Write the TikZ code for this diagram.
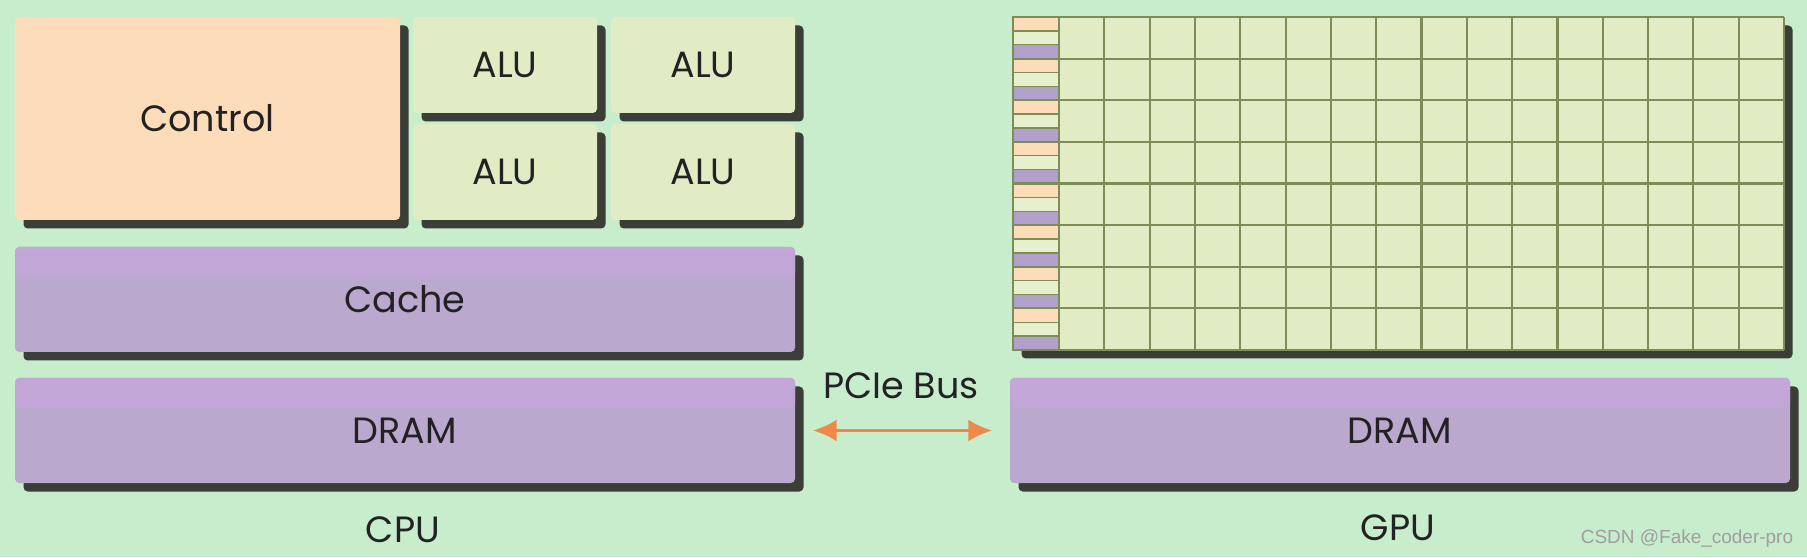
\documentclass[tikz,border=0pt]{standalone}
\usepackage{fontspec}
\setmainfont{Poppins}
\newfontfamily\wzfont{Liberation Sans}
\usetikzlibrary{arrows.meta,shadows,positioning}
\definecolor{minz}{HTML}{C8EDCC}
\definecolor{pfir}{HTML}{FDDCBA}
\definecolor{lila}{HTML}{BAA8CF}
\definecolor{lilaob}{HTML}{C4A6D9}
\definecolor{hgruen}{HTML}{E2ECC4}
\definecolor{hstreif}{HTML}{E6F0CC}
\definecolor{lstreif}{HTML}{B0A0CB}
\definecolor{oliv}{HTML}{7E8C57}
\definecolor{schat}{HTML}{3B3D37}
\definecolor{schrift}{HTML}{222222}
\definecolor{orng}{HTML}{F0884A}
\tikzset{
  box/.style={draw=none,rounded corners=1.2pt,inner sep=0pt,text=schrift,
    font=\fontsize{10.4}{12}\selectfont,
    drop shadow={shadow xshift=0.085cm,shadow yshift=-0.085cm,fill=schat,opacity=1}},
  ctrl/.style={box,fill=pfir,minimum width=3.85cm,minimum height=2.03cm},
  alu/.style={box,fill=hgruen,minimum width=1.84cm,minimum height=0.96cm},
  mem/.style={box,fill=lila,minimum width=7.80cm,minimum height=1.05cm,
    path picture={\shade[top color=lilaob,bottom color=lila]
      (path picture bounding box.north west) rectangle ([yshift=-0.3cm]path picture bounding box.north east);}},
  kern/.style={box,fill=hgruen,minimum width=7.71cm,minimum height=3.33cm},
  gitter/.style={oliv,line width=0.6pt},
  bus/.style={{Latex[length=2.4mm,width=2.2mm]}-{Latex[length=2.4mm,width=2.2mm]},orng,line width=1.1pt},
  etikett/.style={text=schrift,font=\fontsize{10.4}{12}\selectfont},
}

\begin{document}
\begin{tikzpicture}
  \path[use as bounding box,fill=minz] (0,0) rectangle (18.07,5.57);
  \node[ctrl] (control) at (2.075,4.385) {Control};
  \node[alu] (alu11) at (5.05,4.92) {ALU};
  \node[alu] (alu12) at (7.03,4.92) {ALU};
  \node[alu] (alu21) at (5.05,3.85) {ALU};
  \node[alu] (alu22) at (7.03,3.85) {ALU};
  \node[mem] (cache) at (4.05,2.575) {Cache};
  \node[mem] (cpudram) at (4.05,1.265) {DRAM};
  \node[etikett] (cpu) at (4.03,0.27) {CPU};
  \node[kern] (gpukern) at (13.985,3.735) {};
  \foreach \r in {0,...,7}
    \foreach \f [count=\k from 0] in {pfir,hstreif,lstreif}
      \filldraw[fill=\f,draw=oliv,line width=0.4pt] (10.13,{5.40-(3*\r+\k)*0.13875}) rectangle ++(0.46,-0.13875);
  \foreach \i in {0,...,16}
    \draw[gitter] ({10.59+\i*0.453125},2.07) -- ++(0,3.33);
  \foreach \j in {0,...,8}
    \draw[gitter] (10.13,{2.07+\j*0.41625}) -- (17.84,{2.07+\j*0.41625});
  \draw[gitter] (10.13,2.07) -- (10.13,5.40);
  \node[mem] (gpudram) at (14.00,1.265) {DRAM};
  \node[etikett] (gpu) at (13.98,0.29) {GPU};
  \node[etikett] (pcie) at (9.01,1.71) {PCIe Bus};
  \draw[bus] ([xshift=0.17cm]cpudram.east) -- ([xshift=-0.17cm]gpudram.west);
  \node[font=\wzfont\fontsize{5.4}{7}\selectfont,text=gray!75] (wz) at (16.87,0.18) {CSDN @Fake\_coder-pro};
\end{tikzpicture}
\end{document}
